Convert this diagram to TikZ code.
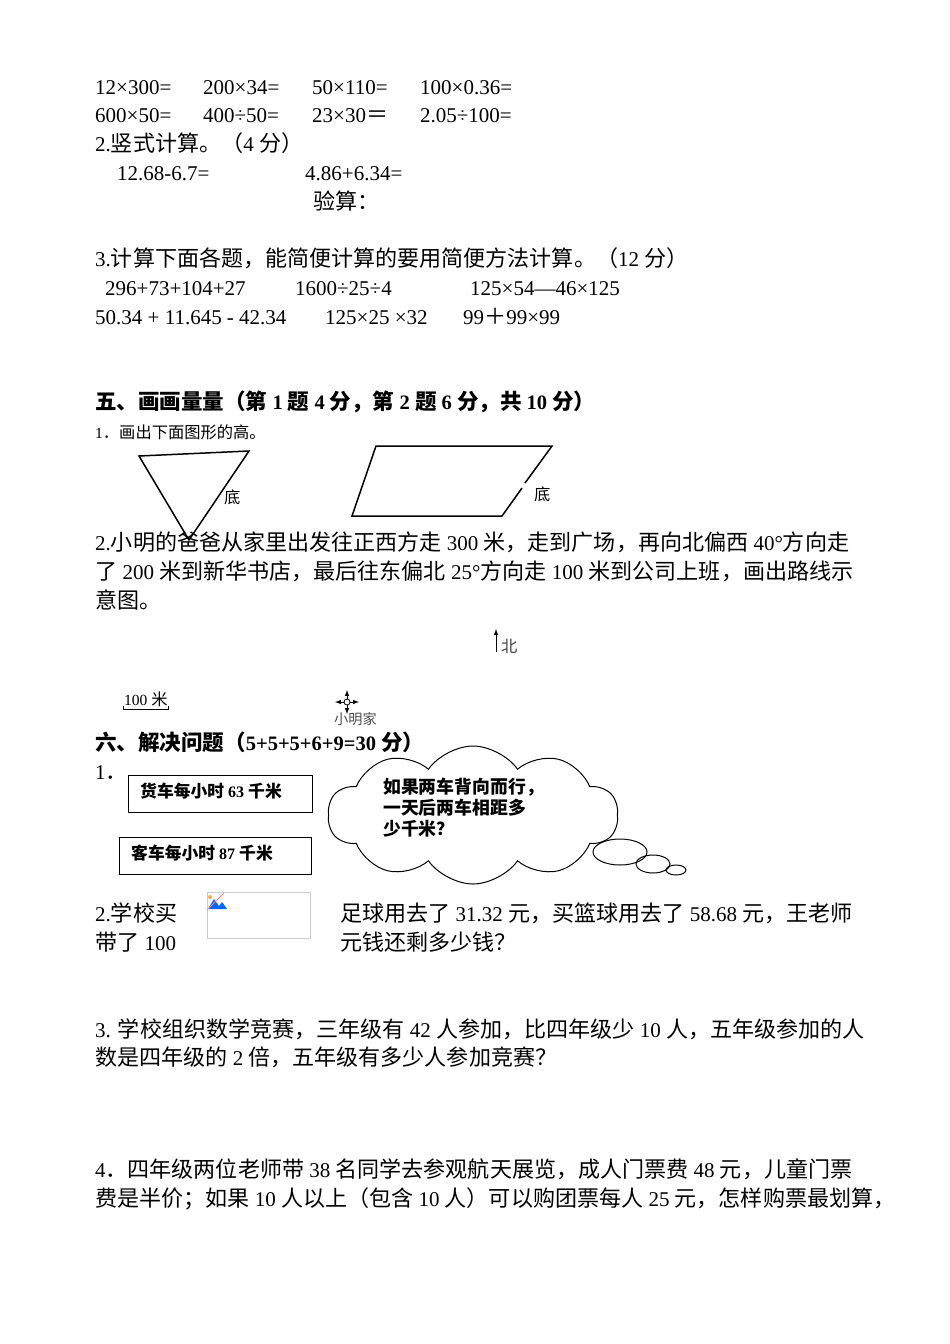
\documentclass[tikz,border=0pt]{standalone}
\usepackage{fontspec}
\usetikzlibrary{shapes.symbols}
\setmainfont{Liberation Serif}
\newfontfamily\cjk[Scale=1.05]{Noto Sans CJK SC}
\XeTeXinterchartokenstate=1
\newXeTeXintercharclass\cjkclass
\makeatletter
\count@="4E00 \loop \XeTeXcharclass\count@=\cjkclass \advance\count@ 1 \ifnum\count@<"A000 \repeat
\count@="3000 \loop \XeTeXcharclass\count@=\cjkclass \advance\count@ 1 \ifnum\count@<"3040 \repeat
\count@="FF01 \loop \XeTeXcharclass\count@=\cjkclass \advance\count@ 1 \ifnum\count@<"FF5F \repeat
\makeatother
\XeTeXinterchartoks 0 \cjkclass = {\begingroup\cjk}
\XeTeXinterchartoks 4095 \cjkclass = {\begingroup\cjk}
\XeTeXinterchartoks \cjkclass 0 = {\endgroup}
\XeTeXinterchartoks \cjkclass 4095 = {\endgroup}
\tikzset{t/.style={anchor=base west,inner sep=0pt,font=\fontsize{21}{22}\selectfont},
 s/.style={anchor=base west,inner sep=0pt,font=\fontsize{15.5}{17}\selectfont},
 h/.style={anchor=base west,inner sep=0pt,font=\fontsize{20.5}{22}\selectfont\bfseries},
 bt/.style={anchor=base west,inner sep=0pt,font=\fontsize{16}{17}\selectfont\bfseries},
 ctx/.style={anchor=base west,inner sep=0pt,font=\fontsize{17}{20}\selectfont\bfseries},
 bx/.style={draw,line width=1pt},
 figline/.style={line width=1.5pt,line join=miter}}
\begin{document}
\begin{tikzpicture}[x=1pt,y=-1pt]
\useasboundingbox (0,0) rectangle (950,1344);
\node[t] (a1) at (95,94) {12×300=};
\node[t] (a2) at (203,94) {200×34=};
\node[t] (a3) at (312,94) {50×110=};
\node[t] (a4) at (420,94) {100×0.36=};
\node[t] (b1) at (95,122) {600×50=};
\node[t] (b2) at (203,122) {400÷50=};
\node[t] (b3) at (312,122) {23×30＝};
\node[t] (b4) at (420,122) {2.05÷100=};
\node[t] (c) at (95,151) {2.竖式计算。（4 分）};
\node[t] (d1) at (117,180) {12.68-6.7=};
\node[t] (d2) at (305,180) {4.86+6.34=};
\node[t] (e) at (313,209) {验算：};
\node[t] (f) at (95,266) {3.计算下面各题，能简便计算的要用简便方法计算。（12 分）};
\node[t] (g1) at (105,295) {296+73+104+27};
\node[t] (g2) at (295,295) {1600÷25÷4};
\node[t] (g3) at (470,295) {125×54—46×125};
\node[t] (k1) at (95,324) {50.34 + 11.645 - 42.34};
\node[t] (k2) at (325,324) {125×25 ×32};
\node[t] (k3) at (463,324) {99＋99×99};
\node[h] (h5) at (95,409) {五、画画量量（第 1 题 4 分，第 2 题 6 分，共 10 分）};
\node[s] (q1) at (95,438) {1．画出下面图形的高。};
\draw[figline] (139,456) -- (249,451) -- (189,540) -- cycle;
\node[s] (di1) at (224,503) {底};
\draw[figline] (525,483) -- (552,446) -- (376,446) -- (352,516) -- (502,516) -- (522,488);
\node[s] (di2) at (534,500) {底};
\node[t] (p1) at (95,550) {2.小明的爸爸从家里出发往正西方走 300 米，走到广场，再向北偏西 40°方向走};
\node[t] (p2) at (95,579) {了 200 米到新华书店，最后往东偏北 25°方向走 100 米到公司上班，画出路线示};
\node[t] (p3) at (95,608) {意图。};
\coordinate (ns) at (496,652); \coordinate (nn) at (496,629);
\draw[-latex,line width=1pt] (ns) -- (nn);
\node[s,text=black!75] (bei) at (501,652) {北};
\node[s] (m100) at (124,705) {100 米};
\draw[line width=0.8pt] (123,706) -- (123,709) -- (168,709) -- (168,706);
\coordinate (home) at (347,702);
\draw[-latex,line width=1pt] (home) ++(3,0) -- ++(9,0);
\draw[-latex,line width=1pt] (home) ++(-3,0) -- ++(-9,0);
\draw[-latex,line width=1pt] (home) ++(0,-3) -- ++(0,-9);
\draw[-latex,line width=1pt] (home) ++(0,3) -- ++(0,9);
\draw[fill=white,line width=0.8pt] (home) circle (3);
\node[s,text=black!70,font=\fontsize{13.5}{15}\selectfont] (xmj) at (334,724) {小明家};
\node[h] (h6) at (95,750) {六、解决问题（5+5+5+6+9=30 分）};
\node[t] (n1) at (95,779) {1．};
\node[bx,minimum width=184pt,minimum height=37pt] (box1) at (220,793.5) {};
\node[bt] (bt1) at (140,797) {货车每小时 63 千米};
\node[bx,minimum width=192pt,minimum height=37pt] (box2) at (215,855.5) {};
\node[bt] (bt2) at (131,859) {客车每小时 87 千米};
\node[cloud,draw,line width=1pt,cloud puffs=10,cloud puff arc=110,aspect=2.1,minimum width=290pt,minimum height=138pt] (cl) at (473,815) {};
\node[ctx] (ct1) at (383,793) {如果两车背向而行，};
\node[ctx] (ct2) at (383,814) {一天后两车相距多};
\node[ctx] (ct3) at (383,835) {少千米？};
\draw[line width=1pt] (620,852) ellipse (27 and 13);
\draw[line width=1pt] (653,864) ellipse (17 and 9);
\draw[line width=1pt] (676,870) ellipse (10 and 5);
\draw[black!20] (207,892) rectangle (310,938);
\fill[blue!60!cyan] (208,909) -- (214,899) -- (219,906) -- (222,902) -- (227,909) -- cycle;
\fill[orange!70] (210,897) circle (2);
\draw[red!50,line width=1pt] (207,910) -- (224,893);
\node[t] (r1) at (95,921) {2.学校买};
\node[t] (r2) at (95,950) {带了 100};
\node[t] (r3) at (340,921) {足球用去了 31.32 元，买篮球用去了 58.68 元，王老师};
\node[t] (r4) at (340,950) {元钱还剩多少钱？};
\node[t] (u1) at (95,1037) {3. 学校组织数学竞赛，三年级有 42 人参加，比四年级少 10 人，五年级参加的人};
\node[t] (u2) at (95,1065) {数是四年级的 2 倍，五年级有多少人参加竞赛？};
\node[t] (v1) at (95,1177) {4．四年级两位老师带 38 名同学去参观航天展览，成人门票费 48 元，儿童门票};
\node[t] (v2) at (95,1206) {费是半价；如果 10 人以上（包含 10 人）可以购团票每人 25 元，怎样购票最划算，};
\end{tikzpicture}
\end{document}
